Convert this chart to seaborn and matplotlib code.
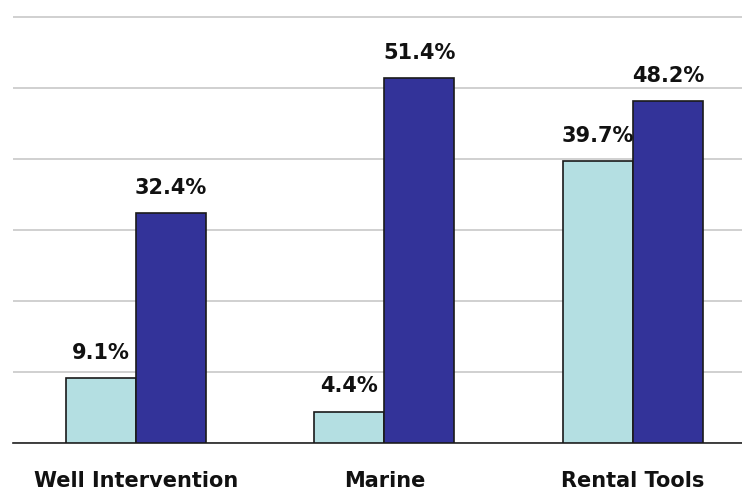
import pandas as pd
import matplotlib.pyplot as plt
import seaborn as sns

# 데이터
categories = ['Well Intervention', 'Marine', 'Rental Tools']
series_names = ['Before', 'After']
values_before = [9.1, 4.4, 39.7]
values_after = [32.4, 51.4, 48.2]
colors = ['#b4dfe2', '#333399']

df = pd.DataFrame({
    'category': categories * 2,
    'series': [series_names[0]] * 3 + [series_names[1]] * 3,
    'value': values_before + values_after,
})

sns.set_style('white')
plt.rcParams['font.family'] = ['DejaVu Sans']

fig = plt.figure(figsize=(7.42, 4.92), dpi=100)
# 축 영역: 0~61 범위, 60 눈금선이 y=17px에 오도록
ax = fig.add_axes([13 / 742, 49 / 492, 1 - 13 / 742, 426 * 61 / 60 / 492])

sns.barplot(data=df, x='category', y='value', hue='series', palette=colors,
            saturation=1, width=0.565, edgecolor='#1a1a1a', linewidth=1.2,
            ax=ax, legend=False, zorder=3)

for cont in ax.containers:
    ax.bar_label(cont, fmt='%.1f%%', padding=11, fontsize=15,
                 fontweight='bold', color='#111111')

ax.set_ylim(0, 61)
ax.set_xlim(-0.495, 2.44)
ax.set_yticks(range(0, 61, 10))
ax.set_yticklabels([])
ax.tick_params(axis='y', length=0)
ax.tick_params(axis='x', length=0, pad=20)
ax.yaxis.grid(True, color='#c8c8c8', linewidth=1.2, zorder=0)
ax.set_axisbelow(True)
for s in ['top', 'right', 'left']:
    ax.spines[s].set_visible(False)
ax.spines['bottom'].set_color('#222222')
ax.spines['bottom'].set_linewidth(1.2)
ax.set_xlabel('')
ax.set_ylabel('')
for lbl in ax.get_xticklabels():
    lbl.set_fontsize(15)
    lbl.set_fontweight('bold')
    lbl.set_color('#111111')

fig.savefig('out.png', dpi=100)
